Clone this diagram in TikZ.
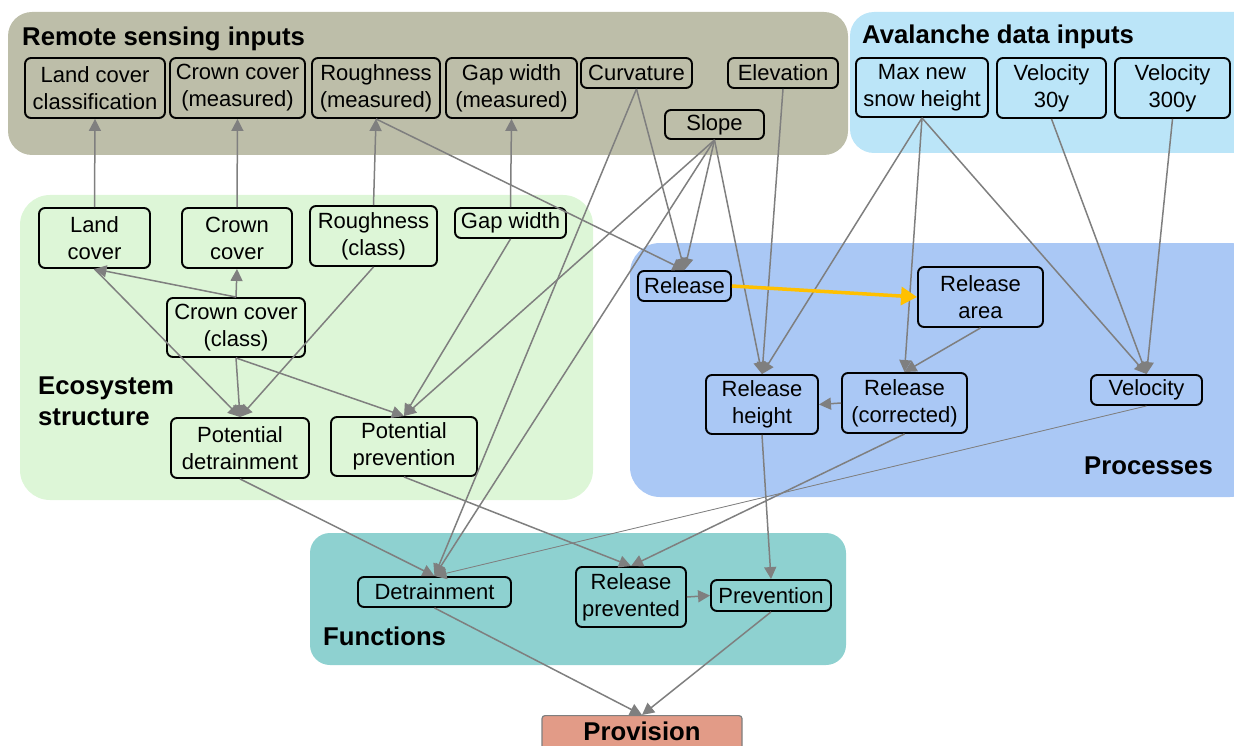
\documentclass[tikz,border=0pt]{standalone}
\usepackage{fontspec}
\setmainfont{Liberation Sans}
\usetikzlibrary{arrows.meta}

\definecolor{rsgrey}{RGB}{189,190,169}
\definecolor{avblue}{RGB}{187,229,248}
\definecolor{ecogreen}{RGB}{221,246,215}
\definecolor{procblue}{RGB}{170,200,245}
\definecolor{funteal}{RGB}{142,209,208}
\definecolor{provred}{RGB}{226,155,135}
\definecolor{linkgrey}{RGB}{127,127,127}
\definecolor{flowgold}{RGB}{255,192,0}

\begin{document}
\begin{tikzpicture}[x=1pt, y=-1pt, >={Triangle[length=12pt,width=12pt]},
  box/.style={draw, line width=1.9pt, rounded corners=6pt, align=center,
    inner sep=0pt, font=\fontsize{22}{27}\selectfont},
  head/.style={inner sep=0pt, font=\bfseries\fontsize{25.7}{31}\selectfont},
  link/.style={->, draw=linkgrey, fill=linkgrey, line width=1.5pt},
  flow/.style={-{Triangle[length=16pt,width=18pt]}, draw=flowgold, fill=flowgold, line width=3.5pt}]
  \useasboundingbox (0,0) rectangle (1234,746);

  % panels
  \fill[rsgrey, rounded corners=24pt] (8,12) rectangle (848,155);
  \fill[avblue, rounded corners=24pt] (850,12) rectangle (1258,153);
  \fill[ecogreen, rounded corners=30pt] (20,195) rectangle (593,500);
  \fill[procblue, rounded corners=30pt] (630,243) rectangle (1260,497);
  \fill[funteal, rounded corners=20pt] (310,533) rectangle (846,665);

  \node[head, anchor=base west] (rstitle) at (22,46) {Remote sensing inputs};
  \node[head, anchor=base west] (avtitle) at (862,44) {Avalanche data inputs};
  \node[head, anchor=north west, align=left] (ecotitle) at (38,377) {Ecosystem\\structure};
  \node[head, anchor=base east] (proctitle) at (1213,474) {Processes};
  \node[head, anchor=base west] (funtitle) at (323,645) {Functions};

  % remote sensing inputs
  \node[box, minimum width=140pt, minimum height=60pt] (lcc) at (95,88) {Land cover\\classification};
  \node[box, minimum width=135pt, minimum height=60pt] (ccm) at (237.5,88) {Crown cover\\(measured)};
  \node[box, minimum width=128pt, minimum height=60pt] (rm) at (376,88) {Roughness\\(measured)};
  \node[box, minimum width=131pt, minimum height=60pt] (gwm) at (511.5,88) {Gap width\\(measured)};
  \node[box, minimum width=111pt, minimum height=30pt] (curv) at (636.5,73) {Curvature};
  \node[box, minimum width=110pt, minimum height=30pt] (elev) at (783,73) {Elevation};
  \node[box, minimum width=99pt, minimum height=29pt] (slope) at (714.5,124.5) {Slope};

  % avalanche data inputs
  \node[box, minimum width=132pt, minimum height=59pt] (msh) at (922,87.5) {Max new\\snow height};
  \node[box, minimum width=109pt, minimum height=60pt] (v30) at (1051.5,88) {Velocity\\30y};
  \node[box, minimum width=115pt, minimum height=60pt] (v300) at (1172.5,88) {Velocity\\300y};

  % ecosystem structure
  \node[box, minimum width=111pt, minimum height=60pt] (lc) at (94.5,238) {Land\\cover};
  \node[box, minimum width=110pt, minimum height=60pt] (cc) at (237,238) {Crown\\cover};
  \node[box, minimum width=127pt, minimum height=60pt] (rc) at (373.5,236) {Roughness\\(class)};
  \node[box, minimum width=111pt, minimum height=30pt] (gw) at (510.5,223) {Gap width};
  \node[box, minimum width=138pt, minimum height=59pt] (ccc) at (236,327.5) {Crown cover\\(class)};
  \node[box, minimum width=138pt, minimum height=60pt] (pd) at (240,448) {Potential\\detrainment};
  \node[box, minimum width=146pt, minimum height=59pt] (pp) at (404,446.5) {Potential\\prevention};

  % processes
  \node[box, minimum width=93pt, minimum height=30pt] (rel) at (684.5,286) {Release};
  \node[box, minimum width=125pt, minimum height=60pt] (ra) at (980.5,297) {Release\\area};
  \node[box, minimum width=112pt, minimum height=59pt] (rh) at (762,404.5) {Release\\height};
  \node[box, minimum width=125pt, minimum height=60pt] (rcor) at (904.5,403) {Release\\(corrected)};
  \node[box, minimum width=111pt, minimum height=30pt] (vel) at (1146.5,390) {Velocity};

  % functions
  \node[box, minimum width=153pt, minimum height=30pt] (det) at (434.5,592) {Detrainment};
  \node[box, minimum width=110pt, minimum height=60pt] (rp) at (631,597) {Release\\prevented};
  \node[box, minimum width=120pt, minimum height=31pt] (prev) at (771,595.5) {Prevention};

  \node[draw=linkgrey, line width=1.2pt, fill=provred, rounded corners=3pt, anchor=north,
    minimum width=200pt, inner ysep=4pt, text height=21pt, text depth=12pt,
    font=\bfseries\fontsize{25.7}{31}\selectfont] (prov) at (642,715) {Provision};

  % links
  \draw[link] (lc.north) -- (lcc.south);
  \draw[link] (cc.north) -- (ccm.south);
  \draw[link] (rc.north) -- (rm.south);
  \draw[link] (gw.north) -- (gwm.south);
  \draw[link] (ccc.north) -- (cc.south);
  \draw[link] (ccc.north) -- (lc.south);
  \draw[link] (lc.south) -- (pd.north);
  \draw[link] (ccc.south) -- (pd.north);
  \draw[link] (rc.south) -- (pd.north);
  \draw[link] (ccc.south) -- (pp.north);
  \draw[link] (gw.south) -- (pp.north);
  \draw[link] (slope.south) -- (pp.north);
  \draw[link] (rm.south) -- (rel.north);
  \draw[link] (curv.south) -- (rel.north);
  \draw[link] (slope.south) -- (rel.north);
  \draw[link] (curv.south) -- (det.north);
  \draw[link] (slope.south) -- (det.north);
  \draw[link] (slope.south) -- (rh.north);
  \draw[link] (elev.south) -- (rh.north);
  \draw[link] (msh.south) -- (rh.north);
  \draw[link] (msh.south) -- (rcor.north);
  \draw[link] (msh.south) -- (vel.north);
  \draw[link] (v30.south) -- (vel.north);
  \draw[link] (v300.south) -- (vel.north);
  \draw[flow] (rel.east) -- (ra.west);
  \draw[link] (ra.south) -- (rcor.north);
  \draw[link] (rcor.west) -- (rh.east);
  \draw[link] (rh.south) -- (prev.north);
  \draw[link] (rcor.south) -- (rp.north);
  \draw[link, line width=0.8pt] (vel.south) -- (det.north);
  \draw[link] (pd.south) -- (det.north);
  \draw[link] (pp.south) -- (rp.north);
  \draw[link] (rp.east) -- (prev.west);
  \draw[link] (det.south) -- (prov.north);
  \draw[link] (prev.south) -- (prov.north);
\end{tikzpicture}
\end{document}
